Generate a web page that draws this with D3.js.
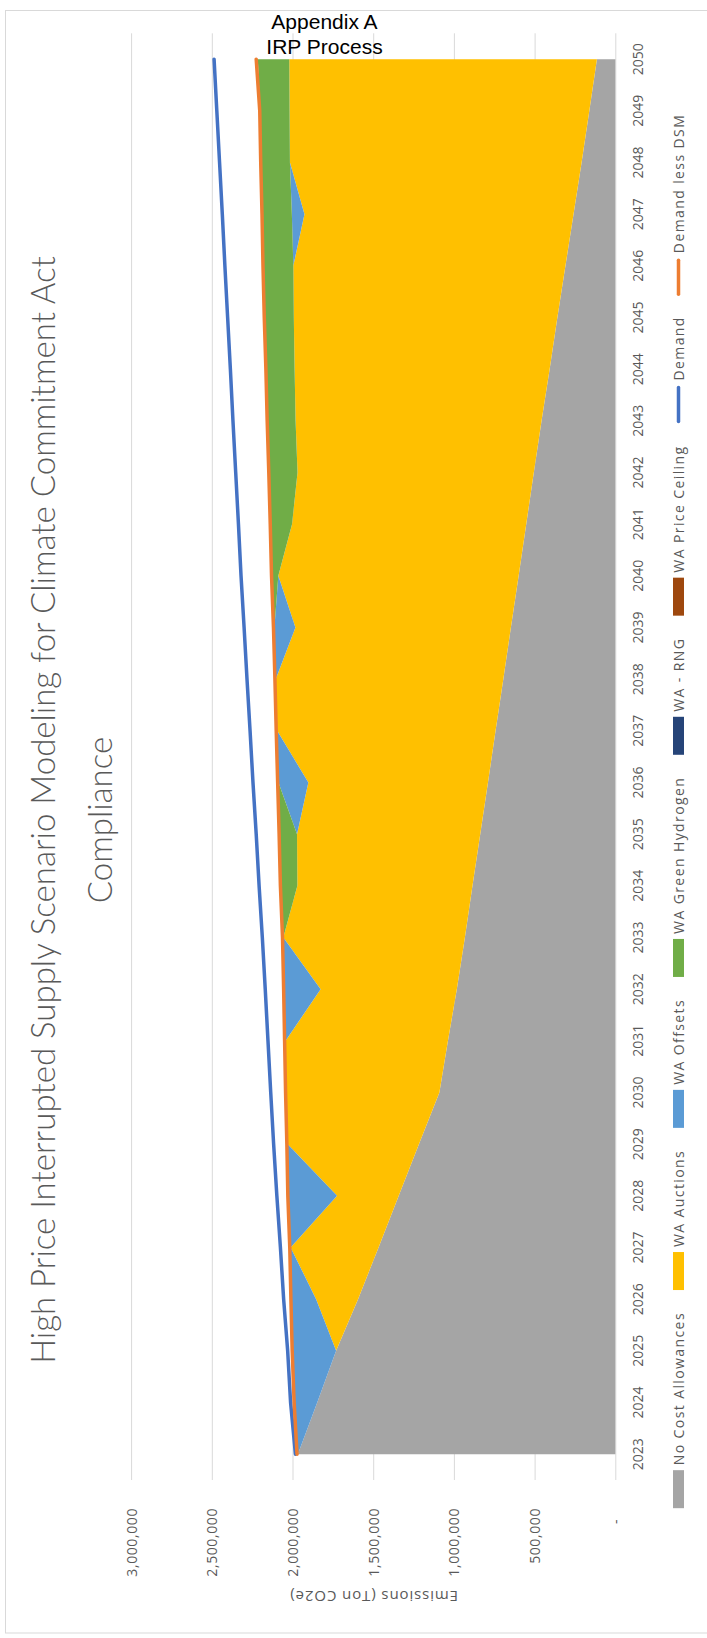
<!DOCTYPE html>
<html>
<head>
<meta charset="utf-8">
<script src="https://cdn.jsdelivr.net/npm/d3@7"></script>
<style>
  html, body { margin: 0; padding: 0; background: #ffffff; }
  svg { display: block; }
  text { font-family: "Open Sans", sans-serif; fill: #595959; }
</style>
</head>
<body>
<svg id="chart" width="707" height="1638"></svg>
<script>
// ---- data (tons CO2e) ----
const years = [2023, 2024, 2025, 2026, 2027, 2028, 2029, 2030, 2031, 2032, 2033, 2034, 2035, 2036,
  2037, 2038, 2039, 2040, 2041, 2042, 2043, 2044, 2045, 2046, 2047, 2048, 2049, 2050];

const noCostAllowances = [1970000, 1850000, 1733000, 1597000, 1470000, 1345000, 1220000, 1093000,
  1040000, 985000, 935000, 888000, 840000, 792000, 745000, 697000, 650000, 602000, 555000, 508000,
  460000, 410000, 362000, 312000, 262000, 212000, 164000, 117000];
const waAuctions = [0, 0, 0, 260000, 545000, 382000, 813000, 947000, 1006000, 844000, 1125000,
  1085000, 1135000, 1113000, 1353000, 1410000, 1335000, 1489000, 1451000, 1464000, 1524000,
  1580000, 1633000, 1686000, 1667000, 1807000, 1857000, 1906000];
const waOffsets = [0, 138000, 267000, 151000, 0, 300000, 0, 0, 0, 223000, 0, 0, 0, 185000, 0, 0,
  130000, 0, 0, 0, 0, 0, 0, 0, 78000, 0, 0, 0];
const waGreenHydrogen = [0, 0, 0, 0, 0, 0, 0, 0, 0, 0, 0, 100000, 105000, 0, 0, 0, 0, 37000,
  130000, 174000, 172000, 174000, 178000, 182000, 180000, 176000, 182000, 195000];
const waRng = [0, 0, 0, 0, 0, 0, 0, 0, 0, 0, 0, 0, 0, 0, 0, 0, 0, 0, 0, 0, 0, 0, 0, 0, 0, 0, 0, 0];
const waPriceCeiling = [0, 0, 0, 0, 0, 0, 0, 0, 0, 0, 0, 0, 0, 0, 0, 0, 0, 0, 0, 0, 0, 0, 0, 0, 0, 0, 0, 0];

const demand = [1985000, 2015000, 2033000, 2058000, 2078000, 2100000, 2120000, 2138000, 2155000,
  2172000, 2190000, 2210000, 2228000, 2248000, 2266000, 2285000, 2303000, 2322000, 2338000,
  2355000, 2372000, 2388000, 2405000, 2422000, 2438000, 2455000, 2472000, 2489000];
const demandLessDsm = [1975000, 1993000, 2005000, 2013000, 2020000, 2032000, 2038000, 2046000,
  2052000, 2058000, 2065000, 2078000, 2086000, 2095000, 2104000, 2112000, 2121000, 2133000,
  2141000, 2150000, 2160000, 2168000, 2178000, 2186000, 2192000, 2200000, 2206000, 2228000];

const valueTicks = [0, 500000, 1000000, 1500000, 2000000, 2500000, 3000000];

const areaSeries = [
  { key: "noCost", name: "No Cost Allowances", color: "#a5a5a5", values: noCostAllowances },
  { key: "auctions", name: "WA Auctions", color: "#ffc000", values: waAuctions },
  { key: "offsets", name: "WA Offsets", color: "#5b9bd5", values: waOffsets },
  { key: "hydrogen", name: "WA Green Hydrogen", color: "#70ad47", values: waGreenHydrogen },
  { key: "rng", name: "WA - RNG", color: "#264478", values: waRng },
  { key: "ceiling", name: "WA Price Ceiling", color: "#9e480e", values: waPriceCeiling },
];
const lineSeries = [
  { key: "demand", name: "Demand", color: "#4472c4", values: demand },
  { key: "demandLessDsm", name: "Demand less DSM", color: "#ed7d31", values: demandLessDsm },
];

// ---- layout ----
const pageHeight = 1638;
const plot = { left: 158, right: 1604.7, top: 131.6, bottom: 615.8 };

const svg = d3.select("#chart");

svg.append("rect")
  .attr("x", 5.5)
  .attr("y", 10.5)
  .attr("width", 720)
  .attr("height", 1622.5)
  .attr("fill", "#ffffff")
  .attr("stroke", "#d9d9d9");

// the chart is built as an ordinary column layout, then turned on its side
const g = svg.append("g").attr("transform", `translate(0,${pageHeight}) rotate(-90)`);

const x = d3.scalePoint().domain(years).range([plot.left, plot.right]).padding(0.5);
const y = d3.scaleLinear().domain([0, 3000000]).range([plot.bottom, plot.top]);

// gridlines
g.append("g")
  .attr("class", "grid")
  .selectAll("line")
  .data(valueTicks.filter((d) => d > 0))
  .join("line")
  .attr("x1", plot.left)
  .attr("x2", plot.right)
  .attr("y1", (d) => y(d))
  .attr("y2", (d) => y(d))
  .attr("stroke", "#d9d9d9")
  .attr("stroke-width", 1);

// stacked areas
const table = years.map((year, i) => {
  const row = { year };
  areaSeries.forEach((s) => (row[s.key] = s.values[i]));
  return row;
});
const stacked = d3.stack().keys(areaSeries.map((s) => s.key))(table);

const area = d3
  .area()
  .x((d) => x(d.data.year))
  .y0((d) => y(d[0]))
  .y1((d) => y(d[1]));

g.append("g")
  .attr("class", "areas")
  .selectAll("path")
  .data(stacked)
  .join("path")
  .attr("fill", (d, i) => areaSeries[i].color)
  .attr("d", area);

// category axis line at zero
g.append("line")
  .attr("x1", plot.left)
  .attr("x2", plot.right)
  .attr("y1", y(0))
  .attr("y2", y(0))
  .attr("stroke", "#d9d9d9")
  .attr("stroke-width", 1);

// demand lines
const line = d3
  .line()
  .x((d, i) => x(years[i]))
  .y((d) => y(d));

g.append("g")
  .attr("class", "lines")
  .selectAll("path")
  .data(lineSeries)
  .join("path")
  .attr("fill", "none")
  .attr("stroke", (d) => d.color)
  .attr("stroke-width", 3.5)
  .attr("stroke-linecap", "round")
  .attr("stroke-linejoin", "round")
  .attr("d", (d) => line(d.values));

// year labels
g.append("g")
  .attr("class", "year-labels")
  .selectAll("text")
  .data(years)
  .join("text")
  .attr("x", (d) => x(d))
  .attr("y", 638)
  .attr("dy", "0.36em")
  .attr("text-anchor", "middle")
  .style("font-size", "14px")
  .text((d) => d);

// value labels
const fmt = d3.format(",");
g.append("g")
  .attr("class", "value-labels")
  .selectAll("text")
  .data(valueTicks)
  .join("text")
  .attr("x", (d) => (d === 0 ? 119 : 130))
  .attr("y", (d) => y(d))
  .attr("dy", "0.36em")
  .attr("text-anchor", "end")
  .style("font-size", "14px")
  .style("letter-spacing", "0.6px")
  .text((d) => (d === 0 ? "-" : fmt(d)));

// value axis title
g.append("text")
  .attr("transform", `translate(42,${(plot.top + plot.bottom) / 2}) rotate(-90)`)
  .attr("dy", "0.35em")
  .attr("text-anchor", "middle")
  .style("font-size", "15px")
  .style("letter-spacing", "0.9px")
  .text("Emissions (Ton CO2e)");

// chart title
const title = g
  .append("text")
  .attr("text-anchor", "middle")
  .style("font-family", "Lato, 'Open Sans', sans-serif")
  .style("font-weight", 300)
  .style("font-size", "33px");
title.append("tspan").attr("x", 828).attr("y", 55)
  .text("High Price Interrupted Supply Scenario Modeling for Climate Commitment Act");
title.append("tspan").attr("x", 818).attr("y", 112).text("Compliance");

// legend
const legendItems = areaSeries
  .map((s) => ({ name: s.name, color: s.color, type: "area" }))
  .concat(lineSeries.map((s) => ({ name: s.name, color: s.color, type: "line" })));

const legendY = 678.5;
const keyWidth = 38;
const legend = g.append("g").attr("class", "legend");
const items = legend.selectAll("g").data(legendItems).join("g");

items.each(function (d) {
  const item = d3.select(this);
  if (d.type === "area") {
    item.append("rect")
      .attr("x", 0)
      .attr("y", legendY - 5.5)
      .attr("width", keyWidth)
      .attr("height", 11)
      .attr("fill", d.color);
  } else {
    item.append("line")
      .attr("x1", 2)
      .attr("x2", keyWidth - 2)
      .attr("y1", legendY)
      .attr("y2", legendY)
      .attr("stroke", d.color)
      .attr("stroke-width", 3.5)
      .attr("stroke-linecap", "round");
  }
  item.append("text")
    .attr("x", keyWidth + 5)
    .attr("y", legendY)
    .attr("dy", "0.36em")
    .style("font-size", "14px")
    .style("letter-spacing", "1.4px")
    .text(d.name);
});

let offset = 0;
const itemGap = 22;
const itemX = [];
items.each(function () {
  itemX.push(offset);
  offset += this.getBBox().width + itemGap;
});
const legendStart = 826 - (offset - itemGap) / 2;
items.attr("transform", (d, i) => `translate(${legendStart + itemX[i]},0)`);

// header note
const note = svg
  .append("text")
  .attr("text-anchor", "middle")
  .style("font-family", "'Liberation Sans', Arial, sans-serif")
  .style("font-size", "21px")
  .style("fill", "#000000");
note.append("tspan").attr("x", 324.5).attr("y", 29).text("Appendix A");
note.append("tspan").attr("x", 324.5).attr("y", 54).text("IRP Process");
</script>
</body>
</html>
